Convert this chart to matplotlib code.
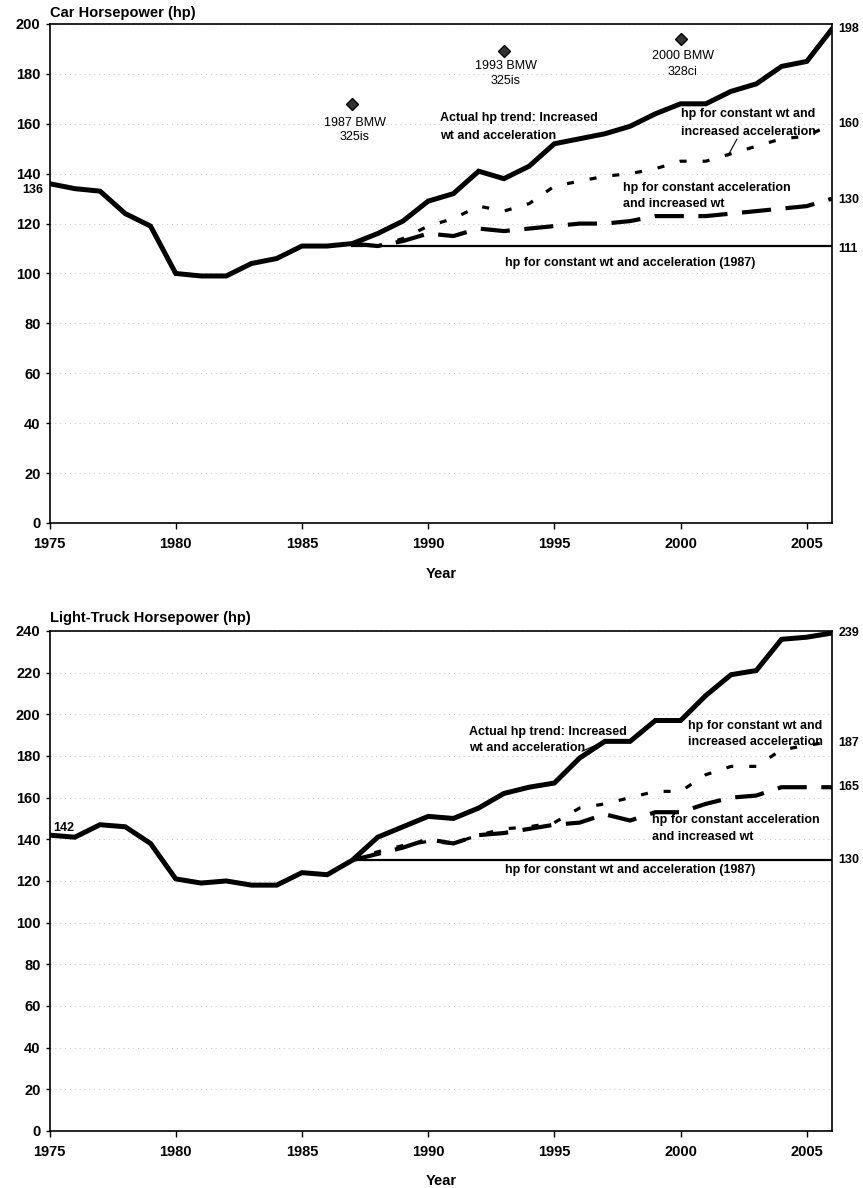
import matplotlib
matplotlib.use('Agg')
import matplotlib.pyplot as plt
import matplotlib.transforms as mtrans

plt.rcParams['font.family'] = ['Liberation Sans', 'DejaVu Sans']

# ---------------- data ----------------
years = list(range(1975, 2007))
proj_years = list(range(1987, 2007))
base_years = [1987, 2006]

car_actual = [136, 134, 133, 124, 119, 100, 99, 99, 104, 106, 111, 111, 112, 116, 121, 129,
              132, 141, 138, 143, 152, 154, 156, 159, 164, 168, 168, 173, 176, 183, 185, 198]
car_const_wt = [112, 111, 114, 119, 122, 127, 125, 128, 135, 137, 139, 140, 142, 145, 145,
                148, 151, 154, 155, 160]
car_const_acc = [112, 111, 113, 116, 115, 118, 117, 118, 119, 120, 120, 121, 123, 123, 123,
                 124, 125, 126, 127, 130]
car_base = [111, 111]

bmw_years = [1987, 1993, 2000]
bmw_hp = [168, 189, 194]
bmw_names = ["1987 BMW", "1993 BMW", "2000 BMW"]
bmw_models = ["325is", "325is", "328ci"]

truck_actual = [142, 141, 147, 146, 138, 121, 119, 120, 118, 118, 124, 123, 130, 141, 146, 151,
                150, 155, 162, 165, 167, 179, 187, 187, 197, 197, 209, 219, 221, 236, 237, 239]
truck_const_wt = [130, 134, 137, 139, 138, 142, 145, 146, 148, 155, 157, 160, 163, 163, 171,
                  175, 175, 183, 185, 187]
truck_const_acc = [130, 133, 136, 140, 138, 142, 143, 145, 147, 148, 152, 149, 153, 153, 157,
                   160, 161, 165, 165, 165]
truck_base = [130, 130]

x_ticks = [1975, 1980, 1985, 1990, 1995, 2000, 2005]

# ---------------- figure ----------------
fig = plt.figure(figsize=(8.63, 11.88), dpi=100)
ax1 = fig.add_axes([0.0574, 0.5598, 0.9067, 0.4200])
ax2 = fig.add_axes([0.0574, 0.0480, 0.9067, 0.4209])

BOLD = dict(fontweight='bold', color='black')


def style_axes(ax, ymax, title, title_y, xlabel_y):
    ax.set_xlim(1975, 2006)
    ax.set_ylim(0, ymax)
    ax.set_xticks(x_ticks)
    ax.set_yticks(list(range(0, ymax + 1, 20)))
    ax.tick_params(axis='y', direction='out', length=3, width=1, labelsize=10.5, pad=3.5)
    ax.tick_params(axis='x', direction='out', length=4, width=1, labelsize=10.5, pad=6)
    for lbl in ax.get_xticklabels() + ax.get_yticklabels():
        lbl.set_fontweight('bold')
    ax.grid(axis='y', color='#c4c4c4', linewidth=0.7, linestyle=(0, (1, 4)))
    ax.set_axisbelow(True)
    for sp in ax.spines.values():
        sp.set_linewidth(1.2)
        sp.set_color('black')
    ax.set_xlabel('Year', fontsize=10.5, **BOLD)
    ax.xaxis.set_label_coords(0.5, xlabel_y)
    ax.text(0.0, title_y, title, transform=ax.transAxes, ha='left', va='center',
            fontsize=10.5, **BOLD)


def right_label(ax, y, txt):
    tr = mtrans.blended_transform_factory(ax.transAxes, ax.transData)
    ax.text(1.008, y, txt, transform=tr, ha='left', va='center', fontsize=9, **BOLD)


def text_lines(ax, x, ys, txts, ha='left', size=9, weight='bold'):
    for y, t in zip(ys, txts):
        ax.text(x, y, t, ha=ha, va='center', fontsize=size, fontweight=weight, color='black')


actual_kw = dict(color='black', linewidth=3.6, solid_joinstyle='miter', zorder=5)
dot_kw = dict(color='black', linewidth=2.3, linestyle=(0, (2.2, 5.0)), zorder=4)
dash_kw = dict(color='black', linewidth=3.0, linestyle=(0, (7, 3.5)), zorder=4)
base_kw = dict(color='black', linewidth=1.6, zorder=3)

# ---------------- top: cars ----------------
style_axes(ax1, 200, 'Car Horsepower (hp)', 1.022, -0.088)
ax1.plot(base_years, car_base, **base_kw)
ax1.plot(proj_years, car_const_acc, **dash_kw)
ax1.plot(proj_years, car_const_wt, **dot_kw)
ax1.plot(years, car_actual, **actual_kw)
ax1.plot(bmw_years, bmw_hp, linestyle='none', marker='D', markersize=6,
         markerfacecolor='#333333', markeredgecolor='black', zorder=6)

name_offsets = [(-7.6, -13.4), (-6.0, -12.0), (-6.9, -13.4)]
for yr, hp, nm, md, (o1, o2) in zip(bmw_years, bmw_hp, bmw_names, bmw_models, name_offsets):
    text_lines(ax1, yr + 0.08, [hp + o1, hp + o2], [nm, md], ha='center', size=9,
               weight='normal')

text_lines(ax1, 1990.47, [162.2, 155.1], ['Actual hp trend: Increased', 'wt and acceleration'])
text_lines(ax1, 2000.0, [163.8, 156.8], ['hp for constant wt and', 'increased acceleration'])
ax1.plot([2001.87, 2002.23], [147.1, 153.8], color='black', linewidth=0.8, zorder=6)
text_lines(ax1, 1997.73, [134.4, 127.8], ['hp for constant acceleration', 'and increased wt'])
text_lines(ax1, 1998.0, [104.0], ['hp for constant wt and acceleration (1987)'], ha='center')

ax1.text(-0.008, 133.4, str(car_actual[0]), transform=mtrans.blended_transform_factory(
    ax1.transAxes, ax1.transData), ha='right', va='center', fontsize=9, **BOLD)
right_label(ax1, car_actual[-1], str(car_actual[-1]))
right_label(ax1, car_const_wt[-1], str(car_const_wt[-1]))
right_label(ax1, car_const_acc[-1] - 0.6, str(car_const_acc[-1]))
right_label(ax1, car_base[-1] - 1.0, str(car_base[-1]))

# ---------------- bottom: light trucks ----------------
style_axes(ax2, 240, 'Light-Truck Horsepower (hp)', 1.025, -0.086)
ax2.plot(base_years, truck_base, **base_kw)
ax2.plot(proj_years, truck_const_acc, **dash_kw)
ax2.plot(proj_years, truck_const_wt, **dot_kw)
ax2.plot(years, truck_actual, **actual_kw)

ax2.text(1975.15, 145.3, str(truck_actual[0]), ha='left', va='center', fontsize=9, **BOLD)
text_lines(ax2, 1991.63, [191.3, 183.7], ['Actual hp trend: Increased', 'wt and acceleration'])
ax2.plot([1996.1, 1996.9], [182.3, 186.5], color='black', linewidth=0.8, zorder=6)
text_lines(ax2, 2000.31, [194.2, 186.5], ['hp for constant wt and', 'increased acceleration'])
text_lines(ax2, 1998.86, [149.3, 141.3], ['hp for constant acceleration', 'and increased wt'])
text_lines(ax2, 1998.0, [125.4], ['hp for constant wt and acceleration (1987)'], ha='center')

right_label(ax2, truck_actual[-1], str(truck_actual[-1]))
right_label(ax2, truck_const_wt[-1] - 1.0, str(truck_const_wt[-1]))
right_label(ax2, truck_const_acc[-1], str(truck_const_acc[-1]))
right_label(ax2, truck_base[-1], str(truck_base[-1]))

fig.savefig('out.png', dpi=100, facecolor='white')
